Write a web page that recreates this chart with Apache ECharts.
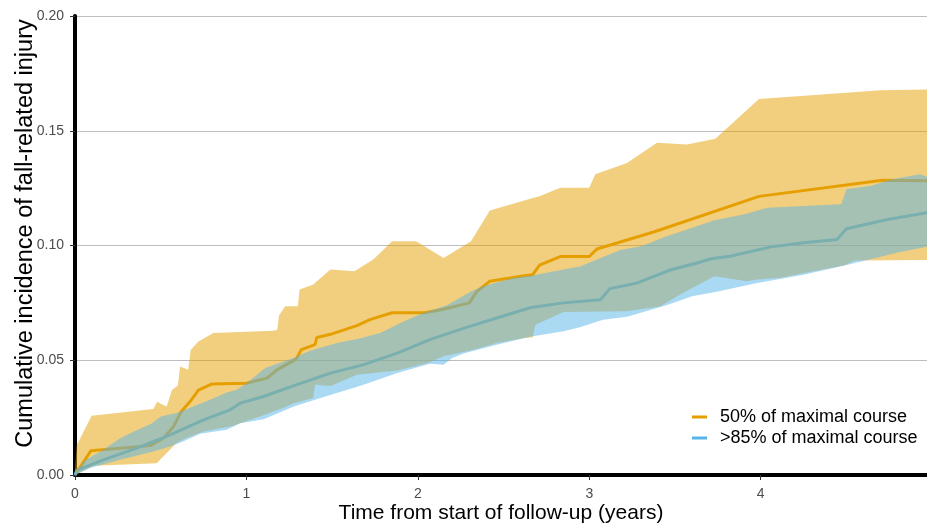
<!DOCTYPE html>
<html>
<head>
<meta charset="utf-8">
<script src="https://cdn.jsdelivr.net/npm/echarts@6/dist/echarts.min.js"></script>
<style>html,body{margin:0;padding:0;background:#fff;}#c{width:927px;height:527px;}</style>
</head>
<body>
<div id="c"></div>
<script>
// ---- data (time in years, cumulative incidence) ----
var seriesNames = ['50% of maximal course', '>85% of maximal course'];
var xTicks = [0, 1, 2, 3, 4];
var yTicks = [0, 0.05, 0.10, 0.15, 0.20];

var line50 = [[0,0],[0.093,0.0106],[0.44,0.0128],[0.515,0.016],[0.574,0.021],[0.62,0.0277],[0.68,0.0328],[0.72,0.037],[0.80,0.0397],[1.0,0.040],[1.12,0.0422],[1.18,0.0459],[1.29,0.0505],[1.32,0.0546],[1.40,0.0568],[1.41,0.0599],[1.49,0.0613],[1.645,0.0651],[1.72,0.0677],[1.85,0.0707],[2.04,0.0707],[2.15,0.0722],[2.30,0.075],[2.345,0.0800],[2.42,0.0844],[2.62,0.0868],[2.67,0.0873],[2.71,0.0914],[2.83,0.0952],[3.0,0.0952],[3.045,0.0985],[3.38,0.1060],[3.99,0.1214],[4.71,0.1284],[4.97,0.1282]];
var upper50 = [[0,0.002],[0.01,0.013],[0.097,0.0258],[0.457,0.0288],[0.48,0.032],[0.50,0.031],[0.535,0.0298],[0.565,0.037],[0.60,0.039],[0.613,0.0473],[0.66,0.0459],[0.675,0.0546],[0.72,0.0582],[0.807,0.0619],[1.158,0.0628],[1.18,0.0633],[1.19,0.0695],[1.226,0.0735],[1.30,0.0735],[1.31,0.0808],[1.39,0.083],[1.49,0.0895],[1.63,0.0888],[1.74,0.0939],[1.85,0.1019],[1.99,0.1019],[2.15,0.0946],[2.31,0.1019],[2.42,0.1153],[2.66,0.1205],[2.71,0.1215],[2.83,0.1252],[3.0,0.1252],[3.035,0.131],[3.22,0.136],[3.395,0.1448],[3.57,0.144],[3.735,0.1465],[3.99,0.1638],[4.70,0.1677],[4.97,0.168]];
var lower50 = [[0,0],[0.107,0.004],[0.477,0.0051],[0.496,0.0066],[0.594,0.0140],[0.652,0.0162],[0.75,0.0189],[0.924,0.0215],[1.0,0.0235],[1.08,0.0255],[1.235,0.0298],[1.275,0.0313],[1.39,0.0335],[1.40,0.0393],[1.49,0.0388],[1.645,0.0437],[1.88,0.0455],[2.07,0.0490],[2.10,0.0502],[2.15,0.0517],[2.325,0.0546],[2.46,0.0575],[2.62,0.0597],[2.67,0.0600],[2.685,0.0655],[2.85,0.0710],[3.22,0.0713],[3.415,0.0735],[3.53,0.0786],[3.73,0.0866],[3.92,0.0844],[3.98,0.0852],[4.12,0.0859],[4.25,0.0880],[4.485,0.0913],[4.55,0.0935],[4.97,0.0937]];

var line85 = [[0,0],[0.01,0.002],[0.165,0.0066],[0.36,0.0117],[0.555,0.0175],[0.75,0.024],[0.905,0.0284],[0.963,0.0313],[1.10,0.0342],[1.29,0.0393],[1.49,0.0444],[1.68,0.048],[1.88,0.0531],[2.07,0.059],[2.27,0.064],[2.46,0.0684],[2.66,0.073],[2.85,0.075],[3.065,0.0764],[3.12,0.0812],[3.28,0.0837],[3.47,0.0893],[3.63,0.0924],[3.71,0.0942],[3.82,0.0953],[4.06,0.0994],[4.25,0.1012],[4.445,0.1026],[4.50,0.1073],[4.74,0.1113],[4.97,0.1143]];
var upper85 = [[0,0],[0.05,0.006],[0.165,0.0110],[0.263,0.0160],[0.36,0.0195],[0.45,0.0225],[0.5,0.0255],[0.594,0.0270],[0.69,0.0298],[0.788,0.0328],[0.885,0.0360],[0.944,0.0371],[1.0,0.0400],[1.11,0.0466],[1.274,0.0510],[1.35,0.0535],[1.39,0.0546],[1.53,0.0575],[1.66,0.0595],[1.78,0.0619],[1.92,0.0670],[2.03,0.0706],[2.17,0.0740],[2.31,0.0800],[2.38,0.0822],[2.56,0.0859],[2.66,0.0868],[2.95,0.0910],[3.045,0.0939],[3.18,0.0980],[3.30,0.0997],[3.355,0.1012],[3.45,0.1040],[3.51,0.1055],[3.57,0.1070],[3.73,0.1110],[3.90,0.1135],[4.04,0.1164],[4.25,0.1172],[4.47,0.1180],[4.50,0.1245],[4.64,0.1259],[4.76,0.1288],[4.93,0.1310],[4.97,0.1300]];
var lower85 = [[0,0],[0.088,0.003],[0.263,0.0066],[0.457,0.0102],[0.555,0.0124],[0.63,0.0146],[0.73,0.0180],[0.885,0.0197],[0.963,0.0226],[1.10,0.0243],[1.28,0.0300],[1.45,0.0340],[1.67,0.0390],[1.88,0.0444],[2.07,0.0485],[2.15,0.0480],[2.20,0.0510],[2.27,0.0531],[2.46,0.0568],[2.66,0.0604],[2.85,0.0626],[2.95,0.0645],[3.08,0.0677],[3.22,0.0690],[3.36,0.0720],[3.45,0.0740],[3.60,0.0779],[3.75,0.0800],[3.98,0.0837],[4.25,0.0873],[4.47,0.0910],[4.64,0.0940],[4.80,0.0970],[4.97,0.0995]];

var C50 = '#E69F00', C85 = '#56B4E9';
var FONT = "'Liberation Sans', Arial, sans-serif";

function ribbon(upper, lower, fill) {
  return {
    type: 'custom',
    z: 5,
    data: [[0, 0]],
    encode: { x: 0, y: 1 },
    clip: true,
    silent: true,
    renderItem: function (params, api) {
      var pts = [];
      for (var i = 0; i < upper.length; i++) pts.push(api.coord(upper[i]));
      for (var j = lower.length - 1; j >= 0; j--) pts.push(api.coord(lower[j]));
      return { type: 'polygon', shape: { points: pts }, style: { fill: fill } };
    }
  };
}

var chart = echarts.init(document.getElementById('c'), null, { renderer: 'canvas' });
chart.setOption({
  animation: false,
  backgroundColor: '#fff',
  textStyle: { fontFamily: FONT },
  grid: { left: 75, right: 0, top: 16, bottom: 52, containLabel: false, outerBoundsMode: 'none' },
  xAxis: {
    type: 'value', min: 0, max: 4.97, interval: 1,
    name: 'Time from start of follow-up (years)',
    nameLocation: 'middle', nameGap: 28, nameMoveOverlap: false,
    nameTextStyle: { fontSize: 21, color: '#000', fontFamily: FONT },
    axisLine: { show: true, onZero: false, lineStyle: { color: '#000', width: 4 } },
    axisTick: { show: true, length: 5, lineStyle: { color: '#333', width: 1 }, customValues: xTicks },
    axisLabel: { color: '#4d4d4d', fontSize: 14, margin: 12, customValues: xTicks, formatter: function (v) { return String(v); } },
    splitLine: { show: false }
  },
  yAxis: {
    type: 'value', min: 0, max: 0.2, interval: 0.05,
    name: 'Cumulative incidence of fall-related injury',
    nameLocation: 'middle', nameGap: 37, nameMoveOverlap: false,
    nameTextStyle: { fontSize: 23.5, color: '#000', fontFamily: FONT, padding: [0, 0, 0, 24] },
    axisLine: { show: true, onZero: false, lineStyle: { color: '#000', width: 4 } },
    axisTick: { show: true, length: 5, lineStyle: { color: '#333', width: 1 }, customValues: yTicks },
    axisLabel: { color: '#4d4d4d', fontSize: 14, margin: 11, customValues: yTicks, formatter: function (v) { return v.toFixed(2); } },
    splitLine: { show: true, lineStyle: { color: '#bdbdbd', width: 1 } }
  },
  legend: {
    data: seriesNames,
    orient: 'vertical', left: 687, top: 403, itemGap: 3,
    icon: 'rect', itemWidth: 15, itemHeight: 3,
    textStyle: { fontSize: 18, color: '#000', fontFamily: FONT, padding: [0, 0, 0, 8] }
  },
  series: [
    { name: seriesNames[0], type: 'line', z: 2, data: line50, showSymbol: false, color: C50, lineStyle: { color: C50, width: 3 } },
    { name: seriesNames[1], type: 'line', z: 2, data: line85, showSymbol: false, color: C85, lineStyle: { color: C85, width: 3 } },
    ribbon(upper50, lower50, 'rgba(230,159,0,0.5)'),
    ribbon(upper85, lower85, 'rgba(86,180,233,0.5)')
  ]
});
</script>
</body>
</html>
